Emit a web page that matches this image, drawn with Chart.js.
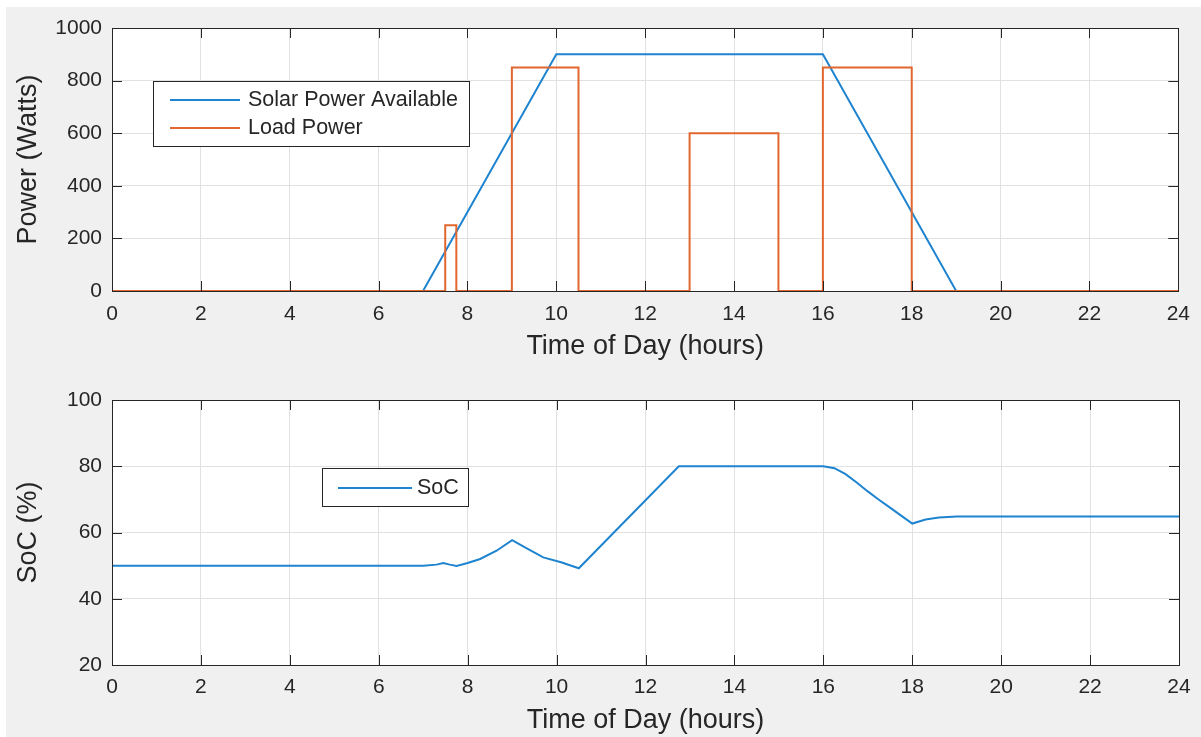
<!DOCTYPE html>
<html>
<head>
<meta charset="utf-8">
<script src="https://cdn.jsdelivr.net/npm/chart.js@4/dist/chart.umd.min.js"></script>
<style>
  body { margin: 0; background: #ffffff; width: 1201px; height: 737px; overflow: hidden; position: relative; }
  #panel { position: absolute; left: 6px; top: 7px; right: 0; bottom: 0; background: #f0f0f0; }
  canvas { position: absolute; left: 0; }
  #powerChart { top: 0; }
  #socChart { top: 370px; }
</style>
</head>
<body>
<div id="panel"></div>
<canvas id="powerChart" width="1201" height="370"></canvas>
<canvas id="socChart" width="1201" height="367"></canvas>
<script>
// Solar power available (W) vs hour of day
const solarHours = [0, 7, 10, 16, 19, 24];
const solarWatts = [0, 0, 900, 900, 0, 0];

// Load power (W) - step profile
const loadHours = [0, 7.5, 7.5, 7.75, 7.75, 9, 9, 10.5, 10.5, 13, 13, 15, 15, 16, 16, 18, 18, 24];
const loadWatts = [0, 0, 250, 250, 0, 0, 850, 850, 0, 0, 600, 600, 0, 0, 850, 850, 0, 0];

// Battery state of charge (%)
const socHours = [0, 7, 7.3, 7.45, 7.6, 7.75, 8, 8.28, 8.65, 9, 9.3, 9.7, 10.1, 10.5, 12.75, 16, 16.25, 16.5, 16.75, 17, 17.25, 17.5, 17.75, 18, 18.3, 18.6, 19, 24];
const socPct = [50, 50, 50.3, 50.8, 50.3, 49.9, 50.8, 52, 54.5, 57.7, 55.4, 52.5, 51, 49.2, 80, 80, 79.4, 77.6, 75.1, 72.4, 69.9, 67.5, 65.1, 62.7, 63.9, 64.5, 64.8, 64.8];

const hourTicks = [0, 2, 4, 6, 8, 10, 12, 14, 16, 18, 20, 22, 24];

const FONT = "'Liberation Sans', Arial, Helvetica, sans-serif";
const TEXT = '#262626';
const BLUE = '#1f84cf';
const ORANGE = '#e2672f';
const GRID = '#e1e1e1';

function points(xs, ys) {
    return xs.map((x, i) => ({ x: x, y: ys[i] }));
}

// MATLAB style axes: white plot area, box with inward tick marks, legend inside
const matlabAxes = {
    id: 'matlabAxes',
    beforeDraw(chart) {
        const a = chart.chartArea;
        chart.ctx.save();
        chart.ctx.fillStyle = '#ffffff';
        chart.ctx.fillRect(a.left, a.top, a.right - a.left, a.bottom - a.top);
        chart.ctx.restore();
    },
    afterDatasetsDraw(chart, args, opts) {
        const ctx = chart.ctx;
        const a = chart.chartArea;
        const xs = chart.scales.x, ys = chart.scales.y;
        ctx.save();
        ctx.strokeStyle = TEXT;
        ctx.lineWidth = 1;
        ctx.beginPath();
        xs.ticks.forEach(t => {
            const px = Math.round(xs.getPixelForValue(t.value)) + 0.5;
            ctx.moveTo(px, a.bottom); ctx.lineTo(px, a.bottom - 10);
            ctx.moveTo(px, a.top); ctx.lineTo(px, a.top + 10);
        });
        ys.ticks.forEach(t => {
            const py = Math.round(ys.getPixelForValue(t.value)) + 0.5;
            ctx.moveTo(a.left, py); ctx.lineTo(a.left + 10, py);
            ctx.moveTo(a.right, py); ctx.lineTo(a.right - 10, py);
        });
        ctx.stroke();
        ctx.strokeRect(Math.round(a.left) + 0.5, Math.round(a.top) + 0.5,
            Math.round(a.right - a.left), Math.round(a.bottom - a.top));

        // legend
        const lg = opts.legend;
        ctx.fillStyle = '#ffffff';
        ctx.fillRect(lg.x, lg.y, lg.w, lg.h);
        ctx.strokeRect(lg.x + 0.5, lg.y + 0.5, lg.w, lg.h);
        ctx.font = '21.5px ' + FONT;
        ctx.textBaseline = 'middle';
        chart.data.datasets.forEach((ds, i) => {
            const ry = lg.y + lg.first + i * lg.rowH;
            ctx.strokeStyle = ds.borderColor;
            ctx.lineWidth = 2;
            ctx.beginPath();
            ctx.moveTo(lg.lineX0, ry); ctx.lineTo(lg.lineX1, ry);
            ctx.stroke();
            ctx.fillStyle = TEXT;
            ctx.fillText(ds.label, lg.textX, ry);
        });
        ctx.restore();
    }
};

function yAxis(yMin, yMax, yStep, yTitle) {
    return {
        type: 'linear',
        min: yMin, max: yMax,
        ticks: { stepSize: yStep, color: TEXT, padding: 10, font: { family: FONT, size: 21 },
                 callback: v => String(v) },
        grid: { color: GRID, drawTicks: false },
        border: { display: false },
        title: { display: true, text: yTitle, color: TEXT, padding: { top: 12 }, font: { family: FONT, size: 27 } },
        afterFit(scale) { scale.width = 112; }
    };
}

function xAxis(xHeight, titlePad, tickPad) {
    return {
        type: 'linear',
        min: 0, max: 24,
        afterBuildTicks(scale) { scale.ticks = hourTicks.map(v => ({ value: v })); },
        ticks: { color: TEXT, padding: tickPad, maxRotation: 0, font: { family: FONT, size: 21 },
                 callback: v => String(v) },
        grid: { color: GRID, drawTicks: false },
        border: { display: false },
        title: { display: true, text: 'Time of Day (hours)', color: TEXT, padding: { top: 0, bottom: titlePad }, font: { family: FONT, size: 27 } },
        afterFit(scale) { scale.height = xHeight; }
    };
}

new Chart(document.getElementById('powerChart').getContext('2d'), {
    type: 'line',
    data: {
        datasets: [{
            label: 'Solar Power Available',
            data: points(solarHours, solarWatts),
            borderColor: BLUE,
            borderWidth: 2,
            pointRadius: 0,
            tension: 0,
            clip: 4,
            order: 1
        }, {
            label: 'Load Power',
            data: points(loadHours, loadWatts),
            borderColor: ORANGE,
            borderWidth: 2,
            pointRadius: 0,
            tension: 0,
            clip: 4,
            order: 0
        }]
    },
    plugins: [matlabAxes],
    options: {
        responsive: false,
        animation: false,
        layout: { padding: { left: 0, top: 28, right: 22, bottom: 0 } },
        scales: {
            x: xAxis(79, 7, 11),
            y: yAxis(0, 1000, 200, 'Power (Watts)')
        },
        plugins: {
            legend: { display: false },
            tooltip: { enabled: false },
            matlabAxes: {
                legend: { x: 153, y: 81, w: 316, h: 65, first: 19, rowH: 28, lineX0: 170, lineX1: 240, textX: 248 }
            }
        }
    }
});

new Chart(document.getElementById('socChart').getContext('2d'), {
    type: 'line',
    data: {
        datasets: [{
            label: 'SoC',
            data: points(socHours, socPct),
            borderColor: BLUE,
            borderWidth: 2,
            pointRadius: 0,
            tension: 0,
            clip: 4
        }]
    },
    plugins: [matlabAxes],
    options: {
        responsive: false,
        animation: false,
        layout: { padding: { left: 0, top: 30, right: 22, bottom: 0 } },
        scales: {
            x: xAxis(72, 0, 10),
            y: yAxis(20, 100, 20, 'SoC (%)')
        },
        plugins: {
            legend: { display: false },
            tooltip: { enabled: false },
            matlabAxes: {
                legend: { x: 322, y: 98, w: 146, h: 38, first: 20, rowH: 28, lineX0: 338, lineX1: 412, textX: 417 }
            }
        }
    }
});
</script>
</body>
</html>
